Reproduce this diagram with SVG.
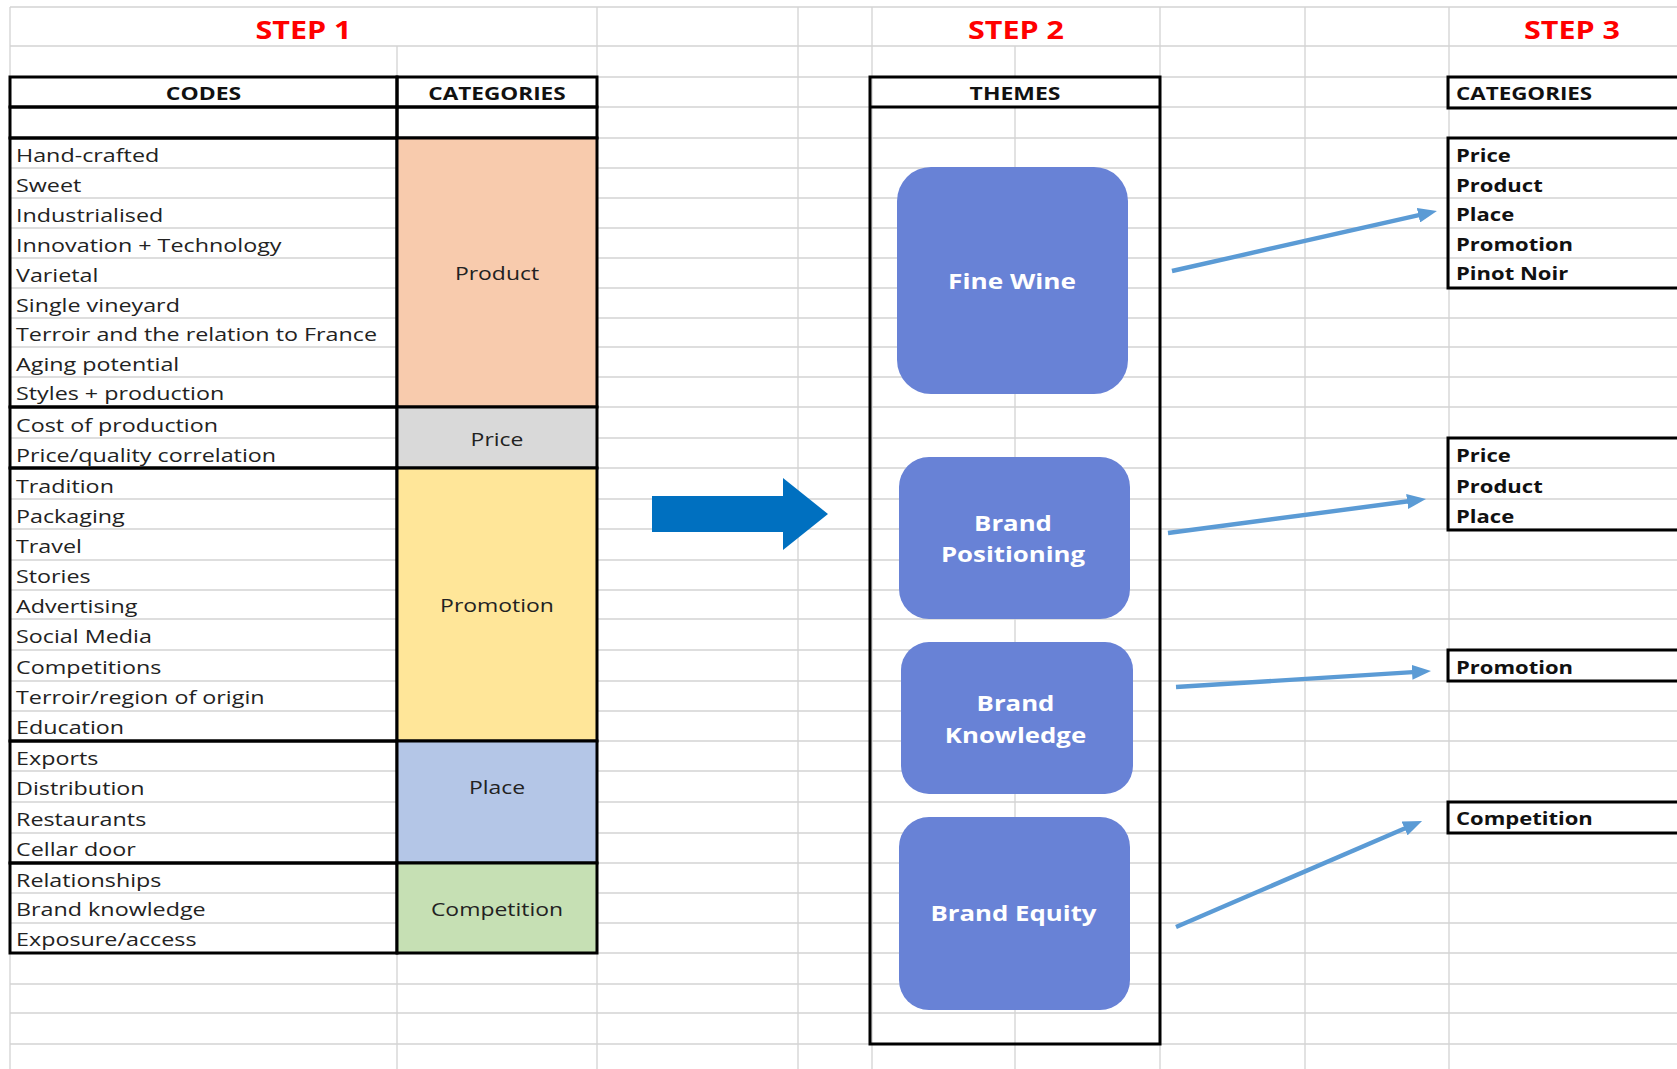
<svg xmlns="http://www.w3.org/2000/svg" width="1677" height="1069" viewBox="0 0 1677 1069">
<style>
.grid{stroke:#d3d3d3;stroke-width:1.3;fill:none}
.thick{stroke:#000;stroke-width:3;fill:none}
.t{font-family:"Open Sans","Liberation Sans",sans-serif;font-size:18.5px;fill:#222}
.b{font-family:"Open Sans","Liberation Sans",sans-serif;font-size:18.5px;font-weight:bold;fill:#111}
.c{text-anchor:middle}
.step{font-family:"Open Sans","Liberation Sans",sans-serif;font-size:25px;font-weight:bold;fill:#ff0000;text-anchor:middle}
.theme{fill:#6882d6}
.tt{font-family:"Open Sans","Liberation Sans",sans-serif;font-size:21.5px;font-weight:bold;fill:#fff;text-anchor:middle}
.conn{stroke:#5b9bd5;stroke-width:4.4;fill:none;marker-end:url(#ah)}
</style>
<defs>
<marker id="ah" markerUnits="userSpaceOnUse" markerWidth="19" markerHeight="15" refX="5" refY="7.5" orient="auto">
<path d="M0,0 L19,7.5 L0,15 z" fill="#5b9bd5"/>
</marker>
</defs>
<rect width="1677" height="1069" fill="#fff"/>
<g id="grid">
<path class="grid" d="M10,7H1677M10,46H1677M10,77H1677M10,107H1677M10,138H1677M10,168H1677M10,198H1677M10,228H1677M10,258H1677M10,288H1677M10,318H1677M10,347H1677M10,377H1677M10,407H1677M10,438H1677M10,468H1677M10,499H1677M10,529H1677M10,560H1677M10,590H1677M10,619H1677M10,650H1677M10,681H1677M10,711H1677M10,741H1677M10,771H1677M10,802H1677M10,833H1677M10,863H1677M10,893H1677M10,923H1677M10,953H1677M10,984H1677M10,1013H1677M10,1044H1677"/>
<path class="grid" d="M10,7V1069M397,46V1069M597,7V1069M798,7V1069M872,7V1069M1015,46V77M1015,107V1069M1160,7V1069M1305,7V1069M1449,7V1069"/>
</g>
<g id="titles">
<text class="step" transform="matrix(1.22 0 0 1 303.5 38.5)">STEP 1</text>
<text class="step" transform="matrix(1.22 0 0 1 1016 38.5)">STEP 2</text>
<text class="step" transform="matrix(1.22 0 0 1 1572 38.5)">STEP 3</text>
</g>
<g id="step1-table">
<rect class="thick" x="10" y="77" width="387" height="30"/>
<rect class="thick" x="397" y="77" width="200" height="30"/>
<rect class="thick" x="10" y="107" width="387" height="31"/>
<rect class="thick" x="397" y="107" width="200" height="31"/>
<text class="b c" transform="matrix(1.24 0 0 1 203.5 100)">CODES</text>
<text class="b c" transform="matrix(1.22 0 0 1 497 100)">CATEGORIES</text>
</g>
<g id="cat-product">
<rect class="thick" x="10" y="138" width="387" height="269"/>
<rect class="thick" x="397" y="138" width="200" height="269" style="fill:#f8cbad"/>
<text class="t c" transform="matrix(1.24 0 0 1 497 280)">Product</text>
<text class="t" transform="matrix(1.26 0 0 1 16 162)">Hand-crafted</text>
<text class="t" transform="matrix(1.26 0 0 1 16 192)">Sweet</text>
<text class="t" transform="matrix(1.26 0 0 1 16 222)">Industrialised</text>
<text class="t" transform="matrix(1.26 0 0 1 16 252)">Innovation + Technology</text>
<text class="t" transform="matrix(1.26 0 0 1 16 282)">Varietal</text>
<text class="t" transform="matrix(1.26 0 0 1 16 311.5)">Single vineyard</text>
<text class="t" transform="matrix(1.26 0 0 1 16 341)">Terroir and the relation to France</text>
<text class="t" transform="matrix(1.26 0 0 1 16 370.5)">Aging potential</text>
<text class="t" transform="matrix(1.26 0 0 1 16 400)">Styles + production</text>
</g>
<g id="cat-price">
<rect class="thick" x="10" y="407" width="387" height="61"/>
<rect class="thick" x="397" y="407" width="200" height="61" style="fill:#d9d9d9"/>
<text class="t c" transform="matrix(1.24 0 0 1 497 445.5)">Price</text>
<text class="t" transform="matrix(1.26 0 0 1 16 431.5)">Cost of production</text>
<text class="t" transform="matrix(1.26 0 0 1 16 461.5)">Price/quality correlation</text>
</g>
<g id="cat-promotion">
<rect class="thick" x="10" y="468" width="387" height="273"/>
<rect class="thick" x="397" y="468" width="200" height="273" style="fill:#ffe699"/>
<text class="t c" transform="matrix(1.24 0 0 1 497 612)">Promotion</text>
<text class="t" transform="matrix(1.26 0 0 1 16 492.5)">Tradition</text>
<text class="t" transform="matrix(1.26 0 0 1 16 522.5)">Packaging</text>
<text class="t" transform="matrix(1.26 0 0 1 16 553)">Travel</text>
<text class="t" transform="matrix(1.26 0 0 1 16 583)">Stories</text>
<text class="t" transform="matrix(1.26 0 0 1 16 612.5)">Advertising</text>
<text class="t" transform="matrix(1.26 0 0 1 16 642.5)">Social Media</text>
<text class="t" transform="matrix(1.26 0 0 1 16 674)">Competitions</text>
<text class="t" transform="matrix(1.26 0 0 1 16 704)">Terroir/region of origin</text>
<text class="t" transform="matrix(1.26 0 0 1 16 734)">Education</text>
</g>
<g id="cat-place">
<rect class="thick" x="10" y="741" width="387" height="122"/>
<rect class="thick" x="397" y="741" width="200" height="122" style="fill:#b4c6e7"/>
<text class="t c" transform="matrix(1.24 0 0 1 497 794)">Place</text>
<text class="t" transform="matrix(1.26 0 0 1 16 765)">Exports</text>
<text class="t" transform="matrix(1.26 0 0 1 16 794.5)">Distribution</text>
<text class="t" transform="matrix(1.26 0 0 1 16 826)">Restaurants</text>
<text class="t" transform="matrix(1.26 0 0 1 16 856)">Cellar door</text>
</g>
<g id="cat-competition">
<rect class="thick" x="10" y="863" width="387" height="90"/>
<rect class="thick" x="397" y="863" width="200" height="90" style="fill:#c6e0b4"/>
<text class="t c" transform="matrix(1.24 0 0 1 497 916)">Competition</text>
<text class="t" transform="matrix(1.26 0 0 1 16 887)">Relationships</text>
<text class="t" transform="matrix(1.26 0 0 1 16 916)">Brand knowledge</text>
<text class="t" transform="matrix(1.26 0 0 1 16 945.5)">Exposure/access</text>
</g>
<g id="big-arrow">
<polygon points="652,496 783,496 783,478 828,514 783,550 783,532 652,532" fill="#0070c0"/>
</g>
<g id="themes-box">
<rect class="thick" x="870" y="77" width="290" height="967"/>
<line x1="870" y1="107" x2="1160" y2="107" stroke="#000" stroke-width="3"/>
<text class="b c" transform="matrix(1.24 0 0 1 1015 100)">THEMES</text>
</g>
<g id="theme-fine-wine">
<rect class="theme" x="897" y="167" width="231" height="227" rx="34"/>
<text class="tt" transform="matrix(1.22 0 0 1 1012 289)">Fine Wine</text>
</g>
<g id="theme-brand-positioning">
<rect class="theme" x="899" y="457" width="231" height="162" rx="30"/>
<text class="tt" transform="matrix(1.2 0 0 1 1013 531)">Brand</text>
<text class="tt" transform="matrix(1.2 0 0 1 1013 562)">Positioning</text>
</g>
<g id="theme-brand-knowledge">
<rect class="theme" x="901" y="642" width="232" height="152" rx="28"/>
<text class="tt" transform="matrix(1.2 0 0 1 1015.5 711)">Brand</text>
<text class="tt" transform="matrix(1.2 0 0 1 1015.5 743)">Knowledge</text>
</g>
<g id="theme-brand-equity">
<rect class="theme" x="899" y="817" width="231" height="193" rx="30"/>
<text class="tt" transform="matrix(1.2 0 0 1 1013.5 921)">Brand Equity</text>
</g>
<g id="step3-header">
<rect class="thick" x="1448" y="77" width="260" height="31"/>
<text class="b" transform="matrix(1.21 0 0 1 1456 100)">CATEGORIES</text>
</g>
<g id="step3-fine-wine">
<rect class="thick" x="1448" y="138" width="260" height="150"/>
<text class="b" transform="matrix(1.19 0 0 1 1456 161.5)">Price</text>
<text class="b" transform="matrix(1.19 0 0 1 1456 191.5)">Product</text>
<text class="b" transform="matrix(1.19 0 0 1 1456 221)">Place</text>
<text class="b" transform="matrix(1.19 0 0 1 1456 250.5)">Promotion</text>
<text class="b" transform="matrix(1.19 0 0 1 1456 280)">Pinot Noir</text>
</g>
<g id="step3-positioning">
<rect class="thick" x="1448" y="438" width="260" height="92"/>
<text class="b" transform="matrix(1.19 0 0 1 1456 461.5)">Price</text>
<text class="b" transform="matrix(1.19 0 0 1 1456 492.5)">Product</text>
<text class="b" transform="matrix(1.19 0 0 1 1456 522.5)">Place</text>
</g>
<g id="step3-knowledge">
<rect class="thick" x="1448" y="650" width="260" height="31"/>
<text class="b" transform="matrix(1.19 0 0 1 1456 673.5)">Promotion</text>
</g>
<g id="step3-equity">
<rect class="thick" x="1448" y="802" width="260" height="31"/>
<text class="b" transform="matrix(1.19 0 0 1 1456 825)">Competition</text>
</g>
<g id="connectors">
<line class="conn" x1="1172" y1="271" x2="1423.3" y2="214.1"/>
<line class="conn" x1="1168" y1="533" x2="1412.1" y2="500.8"/>
<line class="conn" x1="1176" y1="687" x2="1417" y2="671.9"/>
<line class="conn" x1="1176" y1="927" x2="1409.2" y2="826.5"/>
</g>
</svg>
